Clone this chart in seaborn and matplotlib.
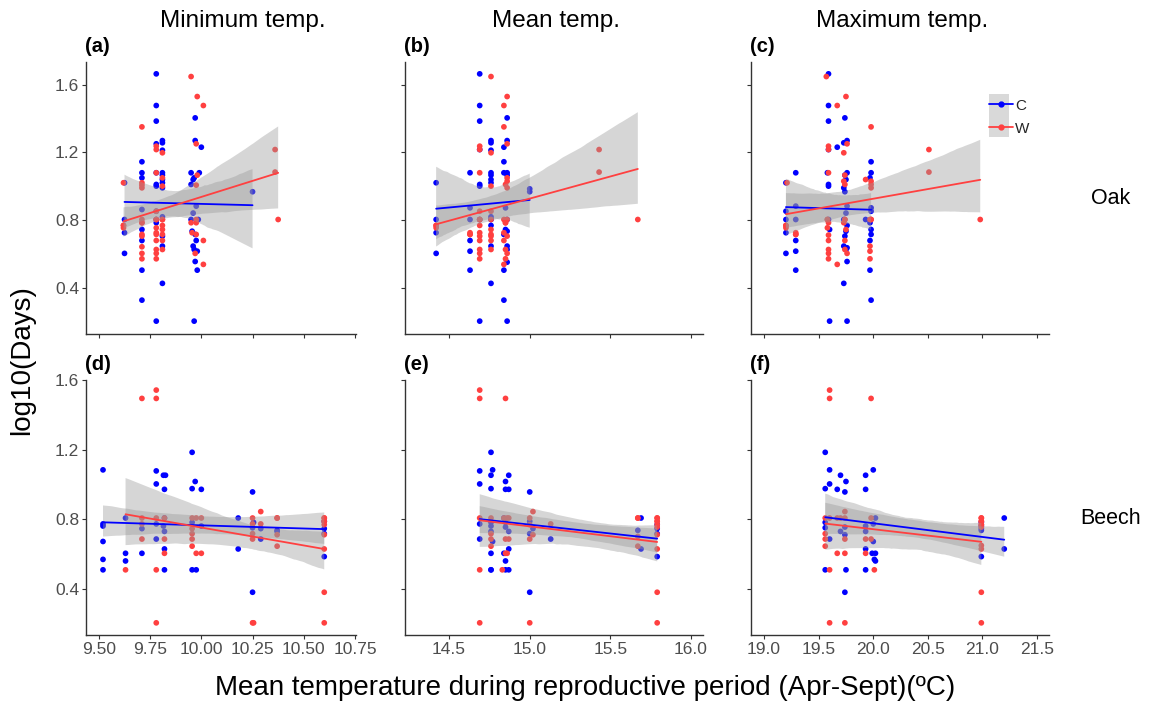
import numpy as np
import pandas as pd
import matplotlib
matplotlib.use("Agg")
import matplotlib.pyplot as plt
import seaborn as sns
from matplotlib.lines import Line2D
from matplotlib.patches import Rectangle

# ---------------- data ----------------
groups = ["C", "W"]
col_titles = ["Minimum temp.", "Mean temp.", "Maximum temp."]
row_labels = ["Oak", "Beech"]
panel_tags = ["(a)", "(b)", "(c)", "(d)", "(e)", "(f)"]
x_ticks_min = [9.50, 9.75, 10.00, 10.25, 10.50, 10.75]
x_ticks_mean = [14.5, 15.0, 15.5, 16.0]
x_ticks_max = [19.0, 19.5, 20.0, 20.5, 21.0, 21.5]
y_ticks = [0.4, 0.8, 1.2, 1.6]

# (a) Oak - minimum temperature
a_c_x = [9.625, 9.625, 9.625, 9.625,
         9.71, 9.71, 9.71, 9.71, 9.71, 9.71, 9.71, 9.71,
         9.78, 9.78, 9.78, 9.78, 9.78, 9.78, 9.78, 9.78, 9.78, 9.78, 9.78,
         9.81, 9.81, 9.81, 9.81, 9.81, 9.81, 9.81, 9.81, 9.81, 9.81, 9.81, 9.81,
         9.97, 9.97, 10.00, 9.95, 9.99, 9.965, 9.96, 9.95, 9.975, 9.96, 9.95,
         9.985, 9.955, 9.97, 9.975, 9.96, 9.965, 9.98, 9.97, 9.98, 9.965,
         10.25]
a_c_y = [1.020, 0.803, 0.725, 0.603,
         1.144, 1.079, 1.049, 0.862, 0.744, 0.679, 0.504, 0.327,
         1.663, 1.476, 1.384, 1.250, 1.079, 1.010, 1.000, 0.852, 0.803, 0.784, 0.203,
         1.269, 1.256, 1.212, 1.079, 1.065, 1.039, 1.020, 0.990, 0.819, 0.705, 0.646, 0.426,
         1.403, 1.269, 1.230, 1.079, 1.079, 1.049, 1.039, 1.010, 0.882, 0.841, 0.803,
         0.803, 0.734, 0.715, 0.679, 0.646, 0.626, 0.616, 0.555, 0.504, 0.203,
         0.967]
a_w_x = [9.62, 9.62, 9.62, 9.62,
         9.71, 9.71, 9.71, 9.71, 9.71, 9.71, 9.71, 9.71, 9.71, 9.71, 9.71, 9.71,
         9.78, 9.78, 9.78, 9.78, 9.78, 9.78, 9.78, 9.78, 9.78, 9.78, 9.78, 9.78, 9.78,
         9.81, 9.81, 9.81, 9.81, 9.81, 9.81, 9.81, 9.81, 9.81, 9.81,
         9.95, 9.98, 10.01, 9.975, 9.98, 9.975, 9.975, 9.95, 9.955, 9.975, 10.01, 9.97, 10.01, 9.975,
         10.36, 10.36, 10.375]
a_w_y = [1.020, 0.768, 0.768, 0.754,
         1.350, 1.020, 1.006, 0.990, 0.803, 0.784, 0.784, 0.715, 0.705, 0.642, 0.603, 0.571,
         1.236, 1.216, 1.079, 0.852, 0.803, 0.803, 0.754, 0.725, 0.715, 0.679, 0.626, 0.603, 0.571,
         1.197, 1.049, 1.000, 0.803, 0.803, 0.768, 0.744, 0.715, 0.679, 0.626,
         1.647, 1.529, 1.476, 1.250, 1.065, 1.006, 0.803, 0.784, 0.725, 0.715, 0.679, 0.603, 0.538, 0.784,
         1.216, 1.083, 0.803]

# (b) Oak - mean temperature
b_c_x = [14.42, 14.42, 14.42, 14.42,
         14.63, 14.63, 14.63, 14.63, 14.63, 14.63,
         14.69, 14.69, 14.69, 14.69, 14.69, 14.69, 14.69, 14.69,
         14.76, 14.76, 14.76, 14.76, 14.76, 14.76, 14.76, 14.76, 14.76, 14.76, 14.76, 14.76,
         14.86, 14.86, 14.84, 14.84, 14.84, 14.86, 14.86, 14.85, 14.86, 14.85, 14.86, 14.84,
         14.86, 14.86, 14.86, 14.84, 14.84, 14.86,
         15.0, 15.0]
b_c_y = [1.020, 0.803, 0.725, 0.603,
         1.079, 0.872, 0.803, 0.679, 0.616, 0.504,
         1.663, 1.476, 1.384, 1.216, 1.010, 1.000, 0.803, 0.203,
         1.269, 1.256, 1.212, 1.079, 1.065, 1.039, 1.020, 0.819, 0.803, 0.768, 0.646, 0.426,
         1.403, 1.269, 1.230, 1.144, 1.079, 1.079, 1.065, 0.872, 0.803, 0.744, 0.734, 0.715,
         0.646, 0.626, 0.551, 0.504, 0.327, 0.203,
         0.984, 0.967]
b_w_x = [14.42, 14.42, 14.42,
         14.63, 14.63, 14.63,
         14.69, 14.69, 14.69, 14.69, 14.69, 14.69, 14.69, 14.69, 14.69, 14.69, 14.69, 14.69, 14.69,
         14.76, 14.76, 14.76, 14.76, 14.76, 14.76, 14.76, 14.76, 14.76, 14.76,
         14.86, 14.84, 14.84, 14.86, 14.86, 14.86, 14.85, 14.86, 14.84, 14.86, 14.85, 14.85,
         14.84, 14.86, 14.84, 14.85, 14.86, 14.85, 14.84,
         15.43, 15.43, 15.67]
b_w_y = [0.768, 0.768, 0.754,
         0.725, 0.715, 0.715,
         1.236, 1.216, 1.079, 0.852, 0.803, 0.803, 0.768, 0.725, 0.705, 0.679, 0.626, 0.603, 0.571,
         1.647, 1.197, 1.000, 0.852, 0.803, 0.744, 0.715, 0.705, 0.679, 0.626,
         1.529, 1.476, 1.350, 1.250, 1.049, 1.029, 1.010, 0.990, 0.803, 0.803, 0.784, 0.784,
         0.725, 0.705, 0.679, 0.626, 0.603, 0.571, 0.538,
         1.216, 1.083, 0.803]

# (c) Oak - maximum temperature
c_c_x = [19.20, 19.20, 19.20, 19.20, 19.20,
         19.29, 19.29, 19.29, 19.29, 19.29, 19.29,
         19.59, 19.59, 19.59, 19.59, 19.58, 19.59, 19.59, 19.59, 19.60, 19.60,
         19.67,
         19.74, 19.76, 19.73, 19.76, 19.74, 19.75, 19.73, 19.74, 19.76, 19.75,
         19.73, 19.76, 19.75, 19.74, 19.73, 19.76, 19.75, 19.76, 19.73, 19.76,
         19.93,
         19.98, 19.98, 19.97, 19.98, 19.98, 19.97, 19.98, 19.98, 19.97, 19.97, 19.98]
c_c_y = [1.020, 0.852, 0.803, 0.725, 0.603,
         1.079, 0.882, 0.803, 0.679, 0.616, 0.504,
         1.663, 1.476, 1.384, 1.216, 1.079, 1.010, 1.000, 0.803, 0.744, 0.203,
         1.230,
         1.403, 1.269, 1.256, 1.079, 1.065, 1.039, 0.990, 0.967, 0.882, 0.841,
         0.803, 0.768, 0.734, 0.705, 0.646, 0.636, 0.626, 0.555, 0.426, 0.203,
         0.803,
         1.144, 1.079, 1.049, 0.872, 0.852, 0.784, 0.744, 0.715, 0.679, 0.504, 0.327]
c_w_x = [19.21, 19.20, 19.20, 19.20,
         19.29, 19.29, 19.29,
         19.57, 19.59, 19.59, 19.59, 19.58, 19.58, 19.59, 19.58, 19.59, 19.59, 19.59, 19.59, 19.59,
         19.67, 19.67,
         19.75, 19.76, 19.73, 19.74, 19.73, 19.74, 19.74, 19.74, 19.73, 19.75, 19.74, 19.74, 19.76,
         19.93,
         19.98, 19.98, 19.98, 19.98, 19.97, 19.98, 19.98, 19.97, 19.97, 19.97,
         20.51, 20.51, 20.98]
c_w_y = [1.020, 0.768, 0.768, 0.754,
         0.725, 0.715, 0.715,
         1.647, 1.236, 1.216, 1.079, 0.803, 0.803, 0.784, 0.754, 0.711, 0.679, 0.626, 0.603, 0.571,
         1.476, 0.538,
         1.529, 1.250, 1.197, 1.065, 1.029, 1.010, 0.803, 0.803, 0.784, 0.744, 0.679, 0.626, 0.603,
         1.039,
         1.350, 1.029, 1.010, 0.990, 0.803, 0.803, 0.803, 0.646, 0.616, 0.571,
         1.216, 1.083, 0.803]

# (d) Beech - minimum temperature
d_c_x = [9.52, 9.52, 9.52, 9.52, 9.52, 9.52,
         9.63, 9.63, 9.63,
         9.71, 9.71,
         9.78, 9.78, 9.78, 9.78,
         9.815, 9.825, 9.82, 9.82, 9.815, 9.82, 9.82, 9.82,
         9.955, 9.97, 9.955, 9.955, 9.955, 9.975,
         10.0, 10.0,
         10.18, 10.18,
         10.25, 10.255, 10.25, 10.25,
         10.29, 10.29,
         10.37, 10.37,
         10.60, 10.60, 10.60, 10.60]
d_c_y = [1.083, 0.772, 0.760, 0.671, 0.568, 0.508,
         0.806, 0.603, 0.559,
         0.745, 0.603,
         1.077, 1.002, 0.772, 0.685,
         1.052, 1.052, 0.971, 0.806, 0.760, 0.729, 0.628, 0.508,
         1.184, 1.016, 0.975, 0.781, 0.508, 0.508,
         0.971, 0.760,
         0.806, 0.628,
         0.956, 0.781, 0.750, 0.379,
         0.745, 0.685,
         0.735, 0.729,
         0.787, 0.745, 0.716, 0.584]
d_w_x = [9.63,
         9.71, 9.71, 9.71, 9.71,
         9.78, 9.78, 9.78, 9.78, 9.78,
         9.82, 9.82, 9.82,
         9.955, 9.975, 9.955, 9.955, 9.955, 9.955, 9.975,
         10.0, 10.0,
         10.25, 10.25, 10.25, 10.25, 10.25, 10.255,
         10.29, 10.29,
         10.37, 10.37, 10.37, 10.37,
         10.60, 10.60, 10.60, 10.60, 10.60, 10.60, 10.60, 10.60, 10.60]
d_w_y = [0.508,
         1.494, 0.806, 0.772, 0.685,
         1.542, 1.494, 0.806, 0.508, 0.203,
         0.806, 0.685, 0.603,
         0.806, 0.806, 0.745, 0.716, 0.685, 0.644, 0.603,
         0.806, 0.603,
         0.806, 0.772, 0.716, 0.685, 0.203, 0.203,
         0.843, 0.772,
         0.806, 0.806, 0.710, 0.644,
         0.806, 0.806, 0.787, 0.787, 0.768, 0.710, 0.628, 0.379, 0.203]

# (e) Beech - mean temperature
e_c_x = [14.69, 14.69, 14.69, 14.69,
         14.76, 14.76, 14.76, 14.76, 14.76, 14.76, 14.76, 14.76, 14.76,
         14.77, 14.77,
         14.85, 14.85, 14.84, 14.85, 14.85, 14.84, 14.85, 14.85,
         14.87, 14.87, 14.87, 14.87, 14.87,
         15.0, 15.0, 15.0, 15.0,
         15.02, 15.13, 15.67, 15.69, 15.69,
         15.79, 15.79, 15.79, 15.79]
e_c_y = [1.077, 1.002, 0.772, 0.685,
         1.184, 1.052, 0.975, 0.781, 0.760, 0.729, 0.603, 0.508, 0.508,
         1.083, 0.671,
         1.016, 0.971, 0.806, 0.781, 0.754, 0.603, 0.559, 0.508,
         1.052, 0.971, 0.729, 0.628, 0.508,
         0.956, 0.787, 0.716, 0.379,
         0.745, 0.685, 0.735, 0.806, 0.628,
         0.768, 0.745, 0.716, 0.584]
e_w_x = [14.69, 14.69, 14.69, 14.69, 14.69,
         14.76, 14.76, 14.76, 14.76,
         14.85, 14.84, 14.86, 14.85, 14.86, 14.85, 14.83,
         14.87, 14.87,
         15.0, 15.0, 15.0, 15.0,
         15.02, 15.02, 15.13,
         15.67, 15.67, 15.67, 15.67,
         15.79, 15.79, 15.79, 15.79, 15.79, 15.79, 15.79, 15.79, 15.79, 15.79]
e_w_y = [1.542, 1.494, 0.806, 0.508, 0.203,
         0.806, 0.716, 0.685, 0.644,
         1.494, 0.806, 0.806, 0.685, 0.603, 0.603, 0.508,
         0.806, 0.685,
         0.806, 0.768, 0.685, 0.203,
         0.843, 0.710, 0.772,
         0.806, 0.806, 0.700, 0.644,
         0.806, 0.806, 0.787, 0.787, 0.768, 0.754, 0.710, 0.628, 0.379, 0.203]

# (f) Beech - maximum temperature
f_c_x = [19.56, 19.56, 19.56, 19.56, 19.56,
         19.60, 19.60, 19.60,
         19.67,
         19.70, 19.70,
         19.75, 19.74, 19.74, 19.74, 19.75, 19.74,
         19.93, 19.93, 19.93, 19.93, 19.93, 19.93,
         20.00, 20.02, 20.00, 20.00, 19.99, 20.02, 20.01, 20.02,
         20.99, 20.99, 20.99, 20.99, 20.99,
         21.20, 21.20]
f_c_y = [1.184, 0.975, 0.781, 0.750, 0.508,
         1.083, 1.002, 0.685,
         0.971,
         1.052, 0.729,
         1.016, 0.956, 0.754, 0.710, 0.508, 0.379,
         1.052, 0.971, 0.760, 0.729, 0.628, 0.508,
         1.083, 0.806, 0.772, 0.671, 0.603, 0.603, 0.568, 0.559,
         0.781, 0.760, 0.745, 0.735, 0.584,
         0.806, 0.628]
f_w_x = [19.56, 19.56, 19.56, 19.56,
         19.60, 19.60, 19.60, 19.60, 19.60,
         19.67, 19.67,
         19.70,
         19.74, 19.74, 19.74, 19.74, 19.74,
         19.93, 19.93,
         19.98, 19.98, 19.98, 20.01,
         20.99, 20.99, 20.99, 20.99, 20.99, 20.99, 20.99, 20.99, 20.99, 20.99, 20.99]
f_w_y = [0.806, 0.716, 0.685, 0.644,
         1.542, 1.494, 0.806, 0.508, 0.203,
         0.806, 0.603,
         0.806,
         0.843, 0.806, 0.685, 0.603, 0.203,
         0.685, 0.603,
         1.494, 0.806, 0.685, 0.508,
         0.806, 0.806, 0.787, 0.787, 0.768, 0.768, 0.754, 0.648, 0.628, 0.379, 0.203]

panels = [
    (a_c_x, a_c_y, a_w_x, a_w_y),
    (b_c_x, b_c_y, b_w_x, b_w_y),
    (c_c_x, c_c_y, c_w_x, c_w_y),
    (d_c_x, d_c_y, d_w_x, d_w_y),
    (e_c_x, e_c_y, e_w_x, e_w_y),
    (f_c_x, f_c_y, f_w_x, f_w_y),
]

# ---------------- style ----------------
sns.set_theme(style="ticks")
plt.rcParams["font.family"] = ["Liberation Sans", "DejaVu Sans"]
PAL = {"C": "#0000FF", "W": "#FF4040"}
TICK_COLOR = "#4D4D4D"
AX_COLOR = "#333333"

W_PX, H_PX = 1153, 707
fig = plt.figure(figsize=(W_PX / 100, H_PX / 100), dpi=100)

col_px = [(86, 356), (405, 703), (751, 1049)]
row_px = [(62, 334), (380, 635)]
xlims = [(9.437, 10.755), (14.227, 16.074), (18.88, 21.61)]
ylims = [(0.127, 1.733), (0.133, 1.597)]
xticks = [x_ticks_min, x_ticks_mean, x_ticks_max]
xtick_fmt = ["{:.2f}", "{:.1f}", "{:.1f}"]

for i, (cx, cy, wx, wy) in enumerate(panels):
    r, c = divmod(i, 3)
    l, rr = col_px[c]
    t, b = row_px[r]
    ax = fig.add_axes([l / W_PX, 1 - b / H_PX, (rr - l) / W_PX, (b - t) / H_PX])

    df = pd.DataFrame({"x": cx + wx, "y": cy + wy,
                       "g": ["C"] * len(cx) + ["W"] * len(wx)})
    sns.scatterplot(data=df, x="x", y="y", hue="g", palette=PAL, s=17,
                    linewidth=0, legend=False, ax=ax, zorder=1)
    for g in groups:
        sub = df[df["g"] == g]
        n0 = len(ax.collections)
        sns.regplot(data=sub, x="x", y="y", scatter=False, color=PAL[g],
                    ci=95, seed=7, truncate=True,
                    line_kws={"lw": 1.3, "zorder": 3}, ax=ax)
        for coll in ax.collections[n0:]:
            coll.set_facecolor((0.6, 0.6, 0.6))
            coll.set_alpha(0.4)
            coll.set_edgecolor("none")
            coll.set_zorder(2)

    ax.set_xlim(*xlims[c])
    ax.set_ylim(*ylims[r])
    ax.set_xticks(xticks[c])
    ax.set_yticks(y_ticks)
    if r == 1:
        ax.set_xticklabels([xtick_fmt[c].format(v) for v in xticks[c]])
    else:
        ax.set_xticklabels([])
    if c == 0:
        ax.set_yticklabels(["{:.1f}".format(v) for v in y_ticks])
    else:
        ax.set_yticklabels([])
    ax.set_xlabel("")
    ax.set_ylabel("")
    sns.despine(ax=ax)
    for sp in ["left", "bottom"]:
        ax.spines[sp].set_color(AX_COLOR)
        ax.spines[sp].set_linewidth(1.0)
    ax.tick_params(axis="both", direction="out", length=3, width=0.8,
                   color=AX_COLOR, labelcolor=TICK_COLOR, labelsize=12.5, pad=2)
    ax.set_facecolor("white")

    # panel tag
    fig.text((l - 1) / W_PX, 1 - (t - 16) / H_PX, panel_tags[i], ha="left",
             va="center", fontsize=14.5, fontweight="bold", color="black")

# column titles
for xc, title in zip([243, 556, 902], col_titles):
    fig.text(xc / W_PX, 1 - 21 / H_PX, title, ha="center", va="center",
             fontsize=17.5, color="black")

# row labels
for yc, lab in zip([198, 518], row_labels):
    fig.text(1111 / W_PX, 1 - yc / H_PX, lab, ha="center", va="center",
             fontsize=15.5, color="black")

# axis titles
fig.text(22 / W_PX, 1 - 360 / H_PX, "log10(Days)", rotation=90,
         ha="center", va="center", fontsize=20, color="black")
fig.text(585 / W_PX, 1 - 688 / H_PX,
         "Mean temperature during reproductive period (Apr-Sept)(\u00baC)",
         ha="center", va="center", fontsize=20, color="black")

# legend (in panel c)
fig.add_artist(Rectangle((989 / W_PX, 1 - 137 / H_PX), 20 / W_PX, 43 / H_PX,
                         transform=fig.transFigure, facecolor="#D9D9D9",
                         edgecolor="none", zorder=4))
handles = [Line2D([], [], color=PAL[g], lw=1.3, marker="o", markersize=3.5)
           for g in groups]
leg = fig.legend(handles, groups, loc="upper left",
                 bbox_to_anchor=(987 / W_PX, 1 - 97 / H_PX), frameon=False,
                 handlelength=1.6, handletextpad=0.15, labelspacing=0.6,
                 fontsize=11, borderaxespad=0, borderpad=0.1)
leg.set_zorder(5)

fig.savefig("out.png", dpi=100)
